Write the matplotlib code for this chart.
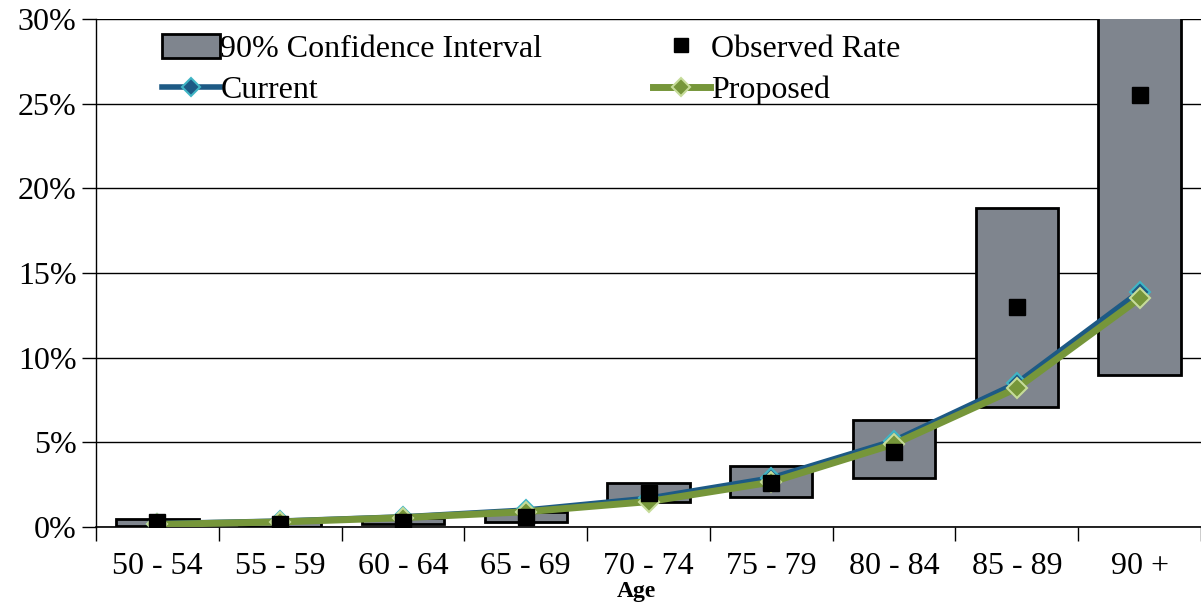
import matplotlib

matplotlib.use("Agg")
import matplotlib.pyplot as plt  # noqa: E402
import numpy as np  # noqa: E402
from matplotlib.lines import Line2D  # noqa: E402
from matplotlib.patches import Patch  # noqa: E402
from matplotlib.ticker import FuncFormatter, MultipleLocator  # noqa: E402

# values in percent
ages = ["50 - 54", "55 - 59", "60 - 64", "65 - 69", "70 - 74",
        "75 - 79", "80 - 84", "85 - 89", "90 +"]
ci_low = [0.05, 0.0, 0.18, 0.3, 1.5, 1.8, 2.9, 7.1, 9.0]
ci_high = [0.45, 0.3, 0.53, 0.9, 2.6, 3.6, 6.3, 18.85, 32.0]
observed = [0.3, 0.2, 0.3, 0.6, 2.0, 2.6, 4.4, 13.0, 25.5]
current = [0.2, 0.35, 0.6, 1.0, 1.7, 2.9, 5.1, 8.5, 13.9]
proposed = [0.15, 0.3, 0.55, 0.9, 1.5, 2.65, 4.9, 8.2, 13.5]

plt.rcParams["font.family"] = ["Liberation Serif", "DejaVu Serif"]

box_color = "#7f858e"
cur_color = "#1d5a85"
cur_edge = "#40b5c5"
prop_color = "#76963a"
prop_edge = "#c6dc9a"

fig = plt.figure(figsize=(12.01, 6.02), dpi=100)
ax = fig.add_axes([96 / 1201, 1 - 527 / 602, 1 - 96 / 1201, (527 - 19) / 602])

x = np.arange(len(ages)) + 0.5
lo = np.array(ci_low)
hi = np.array(ci_high)
ax.bar(x, hi - lo, bottom=lo, width=0.67, color=box_color,
       edgecolor="black", linewidth=2, zorder=2)

ax.plot(x, current, color=cur_color, lw=4, marker="D", ms=10,
        mfc=cur_color, mec=cur_edge, mew=1.5, zorder=3)
ax.plot(x, proposed, color=prop_color, lw=5, marker="D", ms=10,
        mfc=prop_color, mec=prop_edge, mew=1.5, zorder=4)
ax.plot(x, observed, ls="none", marker="s", ms=11, color="black", zorder=5)

ax.set_xlim(0, len(ages))
ax.set_ylim(0, 30)
ax.yaxis.set_major_locator(MultipleLocator(5))
ax.yaxis.set_major_formatter(FuncFormatter(lambda v, _: f"{v:.0f}%"))
ax.set_xticks(np.arange(len(ages) + 1))
ax.set_xticklabels([])
ax.set_xticks(x, minor=True)
ax.set_xticklabels(ages, minor=True)
ax.tick_params(axis="x", which="major", length=10, width=1, direction="out")
ax.tick_params(axis="x", which="minor", length=0, pad=18, labelsize=23)
ax.tick_params(axis="y", length=10, width=1, direction="out", labelsize=23, pad=4)

ax.grid(axis="y", color="black", lw=1, zorder=1)
ax.set_axisbelow(True)
for s in ["top", "right"]:
    ax.spines[s].set_visible(False)
ax.spines["left"].set_linewidth(1)
ax.spines["bottom"].set_linewidth(1.2)

ax.set_xlabel("Age", fontsize=17, fontweight="bold")
ax.xaxis.set_label_coords(0.489, -0.107)

handles = [
    Patch(facecolor=box_color, edgecolor="black", linewidth=2),
    Line2D([], [], color=cur_color, lw=4, marker="D", ms=9,
           mfc=cur_color, mec=cur_edge, mew=1.5),
    Line2D([], [], ls="none", marker="s", ms=10, color="black"),
    Line2D([], [], color=prop_color, lw=5, marker="D", ms=9,
           mfc=prop_color, mec=prop_edge, mew=1.5),
]
labels = ["90% Confidence Interval", "Current", "Observed Rate", "Proposed"]
ax.legend(handles, labels, ncol=2, loc="upper left",
          bbox_to_anchor=(0.044, 1.006), frameon=False, fontsize=23,
          handlelength=1.8, handleheight=0.8, handletextpad=0.02,
          columnspacing=3.45, labelspacing=0.35, borderaxespad=0.15)

fig.savefig("out.png", dpi=100)
plt.close(fig)
